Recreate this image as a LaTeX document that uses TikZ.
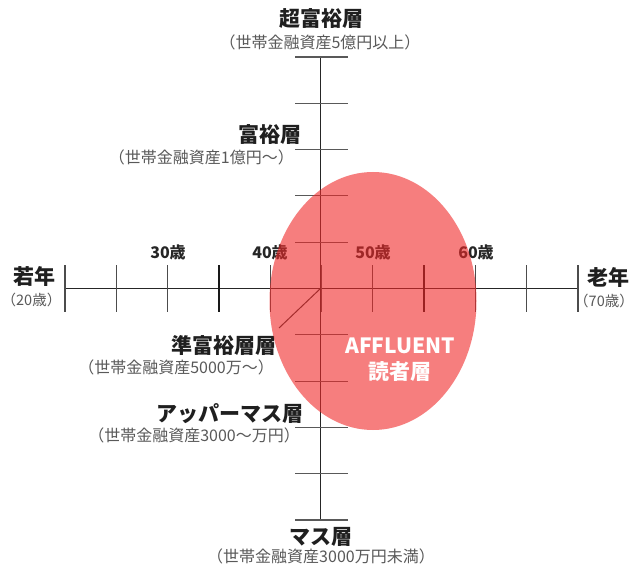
\documentclass[tikz,border=0pt]{standalone}
\usepackage{fontspec}
\newfontfamily\jp{Noto Sans CJK JP}
\begin{document}
\begin{tikzpicture}[x=1pt,y=-1pt,
  title/.style={font=\jp\bfseries\fontsize{21}{23}\selectfont, text=black!88, inner sep=0pt},
  sub/.style={font=\jp\fontsize{16}{18}\selectfont, text=black!65, inner sep=0pt},
  subsm/.style={font=\jp\fontsize{14.5}{16}\selectfont, text=black!65, inner sep=0pt},
  age/.style={font=\jp\bfseries\fontsize{16}{18}\selectfont, text=black!85, inner sep=0pt},
  axisline/.style={line width=1.8pt, black!85},
  tickx/.style={line width=1.3pt, black!70},
  tickxb/.style={line width=2.4pt, black!90},
  ticky/.style={line width=1.2pt, black!65},
  blob/.style={fill={rgb,255:red,240;green,40;blue,40}, fill opacity=0.6, draw=none},
  inblob/.style={font=\jp\bfseries\fontsize{21}{23}\selectfont, text=white, inner sep=0pt}
]
\useasboundingbox (0,0) rectangle (635,567);
\fill[white] (0,0) rectangle (635,567);

% axes
\coordinate (O) at (320.5,288.5);
\coordinate (L) at (65,288.5);
\coordinate (R) at (578,288.5);
\coordinate (T) at (320.5,57);
\coordinate (B) at (320.5,520);
\draw[axisline] (L) -- (R);
\draw[axisline] (T) -- (B);

% x ticks
\foreach \i in {0,1,2,4,5,6,8,9,10} {
  \draw[tickx] ({65+51.3*\i},265) -- ({65+51.3*\i},312);
}
\foreach \i in {3,7} {
  \draw[tickxb] ({65+51.3*\i},265) -- ({65+51.3*\i},312);
}
% y ticks
\foreach \j in {0,1,2,3,4,6,7,8,9,10} {
  \draw[ticky] (295,{57+46.3*\j}) -- (348,{57+46.3*\j});
}

% leader line
\coordinate (lead) at (279,328);
\draw[line width=1pt, black!80] (O) -- (lead);

% labels
\node[title] (chofuyu) at (321,19) {超富裕層};
\node[sub] (chofuyus) at (320,42) {（世帯金融資産5億円以上）};
\node[title, anchor=east] (fuyu) at (302,135) {富裕層};
\node[sub, anchor=east] (fuyus) at (294,157) {（世帯金融資産1億円～）};
\node[title] (jaku) at (34,276) {若年};
\node[subsm] (jakus) at (31.5,300) {（20歳）};
\node[title] (ro) at (608,277) {老年};
\node[subsm] (ros) at (604,301) {（70歳）};
\node[age] (a30) at (168,252) {30歳};
\node[age] (a40) at (270,252) {40歳};
\node[age] (a50) at (373,252) {50歳};
\node[age] (a60) at (476,252) {60歳};
\node[title, anchor=east] (jun) at (277,345) {準富裕層層};
\node[sub, anchor=east] (juns) at (274,367) {（世帯金融資産5000万～）};
\node[title, anchor=east] (upper) at (304,414) {アッパーマス層};
\node[sub, anchor=east] (uppers) at (300,435) {（世帯金融資産3000～万円）};
\node[title] (mass) at (321,537) {マス層};
\node[sub] (masss) at (321,556) {（世帯金融資産3000万円未満）};

% ellipse
\path[blob] (373,301) ellipse [x radius=103.5pt, y radius=129pt];
\node[inblob] (aff) at (400,346) {AFFLUENT};
\node[inblob] (dok) at (400,372) {読者層};
\end{tikzpicture}
\end{document}
